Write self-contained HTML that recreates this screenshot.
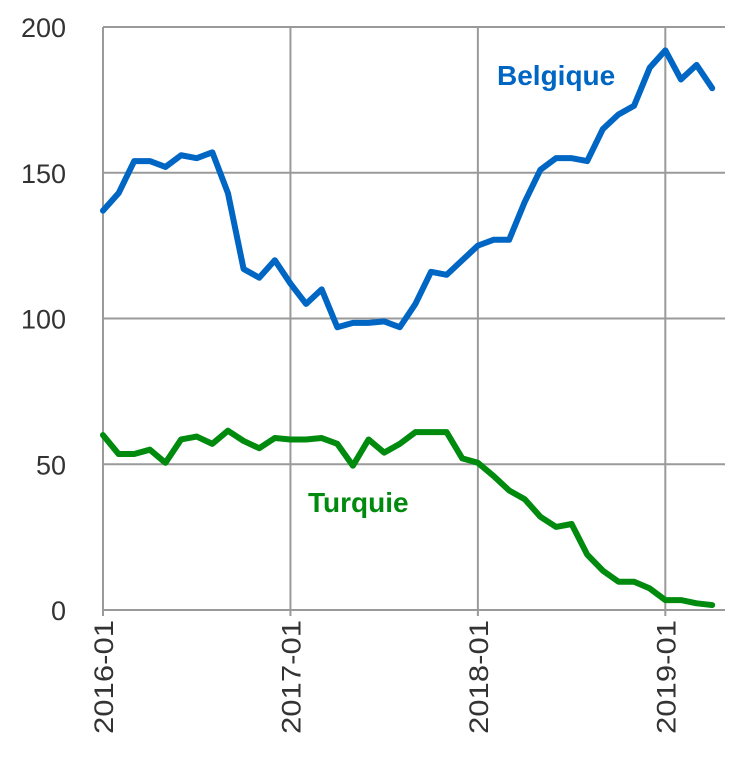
<!DOCTYPE html>
<html><head><meta charset="utf-8"><style>
body{margin:0;background:#fff}
svg text{font-family:"Liberation Sans",sans-serif}
</style></head><body>
<svg id="chart" width="754" height="765" xmlns="http://www.w3.org/2000/svg"></svg>
<script>
const yTicks=[0,50,100,150,200];
const xTickLabels=["2016-01","2017-01","2018-01","2019-01"];
const xTickMonths=[0,12,24,36];
const belgique=[137,143,154,154,152,156,155,157,143,117,114,120,112,105,110,97,98.5,98.5,99,97,105,116,115,120,125,127,127,140,151,155,155,154,165,170,173,186,192,182,187,179];
const turquie=[60,53.5,53.5,55,50.5,58.5,59.5,57,61.5,58,55.5,59,58.5,58.5,59,57,49.5,58.5,54,57,61,61,61,52,50.5,46,41,38,32,28.5,29.5,19,13.5,9.7,9.7,7.4,3.4,3.4,2.3,1.7];
const NS="http://www.w3.org/2000/svg";
const svg=document.getElementById('chart');
const X0=103,PM=15.62,Y0=610,PU=2.915,XR=725;
const xs=m=>X0+m*PM, ys=v=>Y0-v*PU;
function mk(t,a){const e=document.createElementNS(NS,t);for(const k in a)e.setAttribute(k,a[k]);svg.appendChild(e);return e;}
yTicks.forEach(v=>{
  const l=mk('line',{x1:X0,x2:XR,y1:ys(v),y2:ys(v),stroke:'#9a9a9a','stroke-width':2});
  
  
  const t=mk('text',{x:66,y:ys(v)+10,'text-anchor':'end','font-size':27,fill:'#333'});
  t.textContent=v;
  
  
});
xTickMonths.forEach((m,i)=>{
  const x=xs(m);
  const l=mk('line',{x1:x,x2:x,y1:ys(200),y2:Y0+6,stroke:'#9a9a9a','stroke-width':2});
  
  
  const t=mk('text',{x:0,y:0,'text-anchor':'end','font-size':27,fill:'#333',textLength:114,lengthAdjust:'spacingAndGlyphs',transform:`translate(${x+10},620) rotate(-90)`});
  t.textContent=xTickLabels[i];
  
  
});
function series(data,color,name){
  const p=mk('polyline',{points:data.map((v,i)=>xs(i)+','+ys(v)).join(' '),fill:'none',stroke:color,'stroke-width':6,'stroke-linejoin':'round','stroke-linecap':'round'});
  
  
}
series(belgique,'#0066c4','belgique-line');
series(turquie,'#008a0e','turquie-line');
const b=mk('text',{x:497,y:85,'font-size':28,'font-weight':'bold',fill:'#0066c4'});
b.textContent='Belgique';


const tq=mk('text',{x:308,y:512,'font-size':28,'font-weight':'bold',fill:'#008a0e'});
tq.textContent='Turquie';


</script>
</body></html>
